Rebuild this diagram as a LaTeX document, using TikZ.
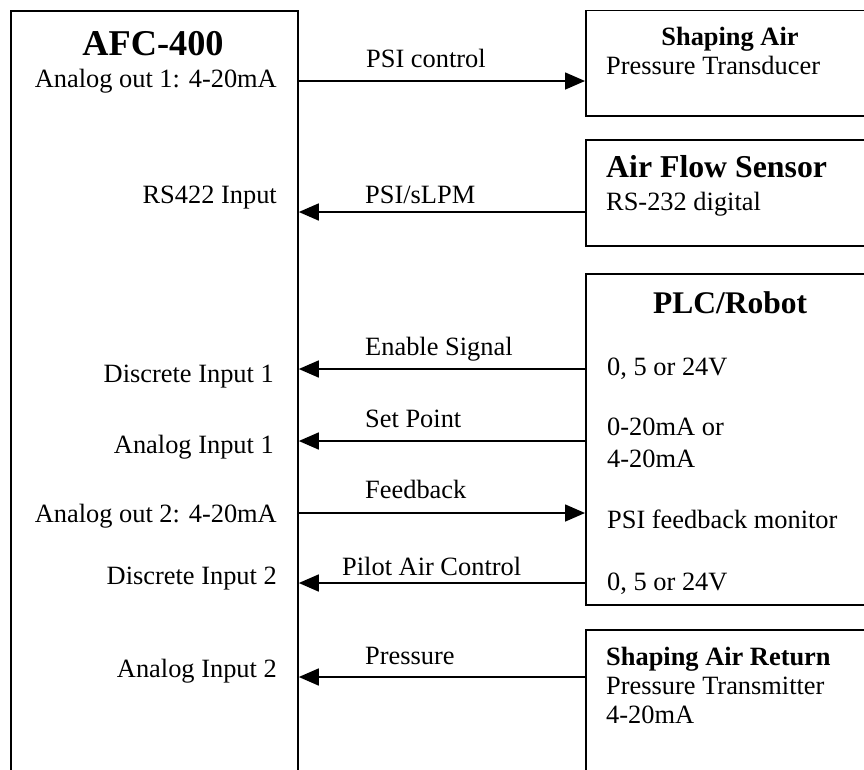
\documentclass[tikz,border=0pt]{standalone}
\usepackage{fontspec}
\setmainfont{Liberation Serif}
\usetikzlibrary{arrows.meta}
\tikzset{
  box/.style={draw, line width=1.8pt, rectangle, inner sep=0pt, anchor=north west},
  conn/.style={line width=1.6pt},
  arr/.style={conn, -{Triangle[length=20pt,width=17pt]}},
  txt/.style={inner sep=0pt, font=\fontsize{26.4}{30}\selectfont},
  ltxt/.style={txt, anchor=base east},
  rtxt/.style={txt, anchor=base west},
  btxt/.style={inner sep=0pt, font=\fontsize{26.4}{30}\selectfont\bfseries}
}
\begin{document}
\begin{tikzpicture}[x=1pt,y=-1pt]
\useasboundingbox (0,0) rectangle (864,769);
\clip (0,0) rectangle (864,769);
% boxes
\node[box, minimum width=287pt, minimum height=800pt] (afc) at (10,10) {};
\node[box, minimum width=320pt, minimum height=105.5pt] (sa) at (585,9.5) {};
\node[box, minimum width=320pt, minimum height=106pt] (afs) at (585,139) {};
\node[box, minimum width=320pt, minimum height=331pt] (plc) at (585,273) {};
\node[box, minimum width=320pt, minimum height=200pt] (sar) at (585,629) {};
% AFC texts
\node[inner sep=0pt, anchor=base, font=\fontsize{36.3}{40}\selectfont\bfseries] (afct) at (153,55) {AFC-400};
\node[ltxt] (ao1) at (277,87) {Analog out 1: 4-20mA};
\node[ltxt] (rs4) at (277,203) {RS422 Input};
\node[ltxt] (di1) at (274,382) {Discrete Input 1};
\node[ltxt] (ai1) at (274,453) {Analog Input 1};
\node[ltxt] (ao2) at (277,522) {Analog out 2: 4-20mA};
\node[ltxt] (di2) at (277,584) {Discrete Input 2};
\node[ltxt] (ai2) at (277,677) {Analog Input 2};
% right box texts
\node[btxt, anchor=base] (sat) at (730,45) {Shaping Air};
\node[rtxt] (sat2) at (606,74) {Pressure Transducer};
\node[inner sep=0pt, anchor=base west, font=\fontsize{31.8}{36}\selectfont\bfseries] (afst) at (606,177) {Air Flow Sensor};
\node[rtxt] (afst2) at (606,210) {RS-232 digital};
\node[inner sep=0pt, anchor=base, font=\fontsize{31.5}{36}\selectfont\bfseries] (plct) at (730,313) {PLC/Robot};
\node[rtxt] (p1) at (607,375) {0, 5 or 24V};
\node[rtxt] (p2) at (607,435) {0-20mA or};
\node[rtxt] (p3) at (607,467) {4-20mA};
\node[rtxt] (p4) at (607,528) {PSI feedback monitor};
\node[rtxt] (p5) at (607,590) {0, 5 or 24V};
\node[btxt, anchor=base west] (sart) at (606,665) {Shaping Air Return};
\node[rtxt] (sart2) at (606,694) {Pressure Transmitter};
\node[rtxt] (sart3) at (606,723) {4-20mA};
% connector labels
\node[rtxt] (l1) at (366,67) {PSI control};
\node[rtxt] (l2) at (365,203) {PSI/sLPM};
\node[rtxt] (l3) at (365,355) {Enable Signal};
\node[rtxt] (l4) at (365,427) {Set Point};
\node[rtxt] (l5) at (365,498) {Feedback};
\node[rtxt] (l6) at (342,575) {Pilot Air Control};
\node[rtxt] (l7) at (365,664) {Pressure};
% connectors
\draw[arr] (afc.east |- 0,81) -- (sa.west |- 0,81);
\draw[arr] (afs.west |- 0,212) -- (afc.east |- 0,212);
\draw[arr] (plc.west |- 0,369) -- (afc.east |- 0,369);
\draw[arr] (plc.west |- 0,441) -- (afc.east |- 0,441);
\draw[arr] (afc.east |- 0,513) -- (plc.west |- 0,513);
\draw[arr] (plc.west |- 0,583) -- (afc.east |- 0,583);
\draw[arr] (sar.west |- 0,677) -- (afc.east |- 0,677);
\end{tikzpicture}
\end{document}
